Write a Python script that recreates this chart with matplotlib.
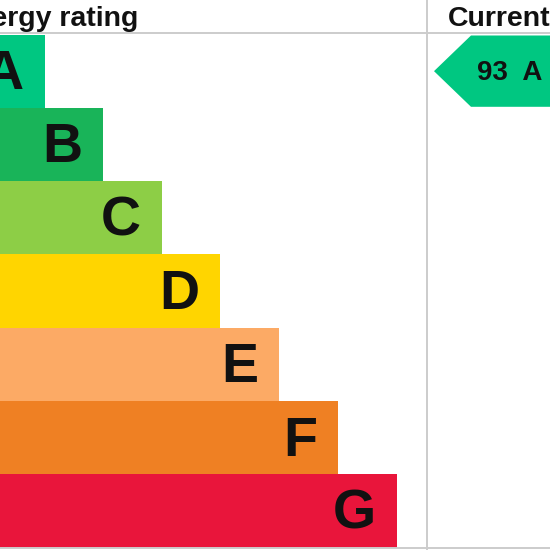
import matplotlib
matplotlib.use("Agg")
import matplotlib.pyplot as plt
from matplotlib.patches import Polygon

# datos de la grafica
bandas = ["A", "B", "C", "D", "E", "F", "G"]
longitudes = [45, 103, 162, 220, 279, 338, 397]
colores = ["#00c781", "#19b459", "#8dce46", "#ffd500", "#fcaa65", "#ef8023", "#e9153b"]
actual_valor = 93
actual_banda = "A"

plt.rcParams["font.family"] = ["Liberation Sans", "DejaVu Sans"]

fig = plt.figure(figsize=(5.5, 5.5), dpi=100)
ax = fig.add_axes([0, 0, 1, 1])
ax.set_xlim(0, 550)
ax.set_ylim(550, 0)
ax.axis("off")

# layout (pixeles)
y0 = 34.5
alto = 73.3
x_sep = 427
y_cab = 33

# barras de calificacion
ys = [y0 + (i + 0.5) * alto for i in range(len(bandas))]
ax.barh(ys, longitudes, height=alto, left=0, color=colores, linewidth=0)
for y, largo, letra in zip(ys, longitudes, bandas):
    ax.text(largo - 21, y + 4, letra, ha="right", va="center",
            fontsize=40, fontweight="bold", color="#111111")

# lineas de la tabla
ax.axhline(y_cab, color="#cccccc", linewidth=1.4)
ax.axhline(548, color="#cccccc", linewidth=1.4)
ax.axvline(x_sep, color="#cccccc", linewidth=1.4)

# encabezados
ax.text(138, 26, "Energy rating", ha="right", va="baseline",
        fontsize=20.5, fontweight="bold", color="#111111")
ax.text(448, 26, "Current", ha="left", va="baseline",
        fontsize=20.5, fontweight="bold", color="#111111")

# flecha de la calificacion actual
i = bandas.index(actual_banda)
yc = ys[i]
y_top = y0 + i * alto + 1
y_bot = y0 + (i + 1) * alto - 1
punta = 434
pend = 37
flecha = Polygon([(punta, yc), (punta + pend, y_top), (560, y_top),
                  (560, y_bot), (punta + pend, y_bot)],
                 closed=True, facecolor=colores[i], edgecolor="none")
ax.add_patch(flecha)
ax.text(510, yc + 2, f"{actual_valor}  {actual_banda}", ha="center", va="center",
        fontsize=20, fontweight="bold", color="#111111")

plt.savefig("out.png", dpi=100)
